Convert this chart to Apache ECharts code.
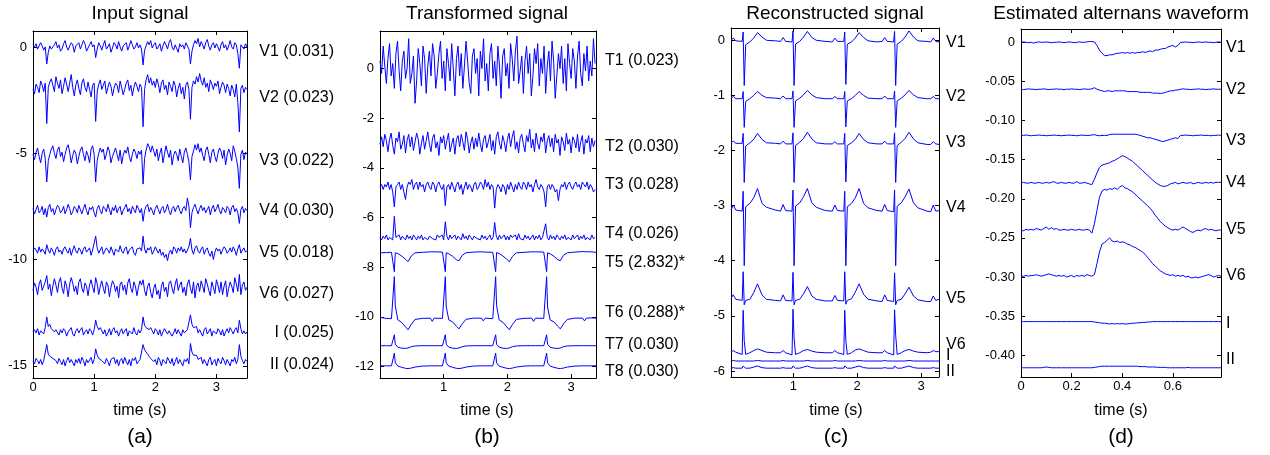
<!DOCTYPE html>
<html><head><meta charset="utf-8">
<script src="https://cdn.jsdelivr.net/npm/echarts@6/dist/echarts.min.js"></script>
<style>html,body{margin:0;padding:0;background:#fff}#c{width:1270px;height:455px}</style>
</head><body><div id="c"></div><script>
// ---------------- Panel (a): input signal (sampling step 0.025 s, deviations + lead offsets)
const dtA = 0.025;
const leadsA = ['V1 (0.031)','V2 (0.023)','V3 (0.022)','V4 (0.030)','V5 (0.018)','V6 (0.027)','I (0.025)','II (0.024)'];
const offsetsA = [0, -2.0, -5.15, -7.7, -9.6, -11.35, -13.4, -14.8];
const aV1 = [0.1,0.0,0.15,-0.1,-0.05,0.2,0.05,-0.15,0.0,-0.8, -0.25,0.05,-0.1,0.0,0.1,0.25,-0.05,0.1,-0.2,-0.1, 0.15,0.3,0.0,-0.15,0.05,0.2,0.1,-0.25,0.05,0.0, 0.2,-0.1,0.1,0.3,0.15,-0.2,-0.05,0.1,0.25,0.0, 0.1,-0.5,-0.1,0.2,0.05,-0.15,0.1,0.3,-0.1,0.0, 0.15,-0.25,-0.05,0.2,0.1,-0.1,0.25,0.0,-0.2,0.05, 0.1,0.2,-0.15,0.05,0.3,0.1,-0.1,0.0,0.2,-0.05, 0.1,-0.1,-0.85,-0.15,0.05,0.25,0.1,0.3,-0.05,0.1, 0.2,-0.1,0.0,0.15,-0.2,0.05,0.25,0.1,-0.1,0.2, 0.35,0.0,-0.15,0.1,0.05,-0.25,0.15,0.0,0.1,-0.1, 0.2,0.05,-0.1,-0.8,-0.2,0.1,0.3,0.15,0.4,0.0, 0.25,0.1,-0.1,0.2,0.35,0.05,-0.15,0.1,0.2,-0.05, 0.15,0.0,-0.2,0.1,0.25,-0.05,0.1,-0.15,0.05,0.3, 0.0,-0.1,0.2,0.1,-0.3,-1.0,0.1,0.0,-0.1,0.15, 0.0];
const aV2 = [0.0,-0.2,0.25,0.1,-0.15,0.4,0.2,-0.1,0.3,-1.6, 0.1,0.35,0.5,0.2,-0.1,0.6,0.3,0.05,0.45,-0.2, 0.15,0.55,0.25,-0.1,0.3,0.7,0.1,-0.3,0.2,0.45, 0.05,-0.25,0.3,0.5,0.1,-0.1,0.35,0.0,-0.35,0.2, 0.3,-1.5,-0.1,0.25,0.45,0.0,0.2,0.4,-0.2,0.1, 0.35,0.15,-0.3,0.05,0.3,0.2,-0.15,0.4,0.1,-0.25, 0.0,0.3,0.45,-0.05,0.2,-0.3,0.1,0.35,0.15,-0.1, 0.25,0.1,-1.75,0.0,0.45,0.7,0.3,0.55,0.2,0.4, 0.1,0.5,0.25,-0.15,0.3,0.45,0.0,0.2,-0.25,0.35, 0.15,-0.1,0.4,0.2,-0.35,0.05,0.3,-0.2,0.1,-0.45, 0.2,0.35,0.0,-1.4,0.1,0.4,0.25,0.6,0.35,0.75, 0.4,0.2,0.55,0.1,0.3,-0.1,0.45,0.25,0.0,0.3, 0.15,0.4,-0.2,0.1,0.35,0.2,-0.15,0.25,0.05,-0.3, 0.2,0.0,-0.35,0.25,-0.6,-2.0,0.05,0.2,-0.15,0.1, 0.0];
const aV3 = [0.1,-0.15,0.2,0.4,0.0,-0.3,0.15,0.35,-0.1,-1.2, -0.2,0.1,0.35,0.5,0.15,-0.1,0.3,0.45,0.0,0.2, -0.25,0.1,0.4,0.55,0.2,-0.3,0.05,0.3,0.15,-0.35, 0.0,0.3,0.45,0.1,-0.2,0.25,0.05,-0.3,0.35,0.5, 0.1,-1.2,-0.2,0.15,0.4,0.2,0.35,-0.15,0.1,0.45, 0.25,-0.3,0.0,0.2,0.4,0.1,-0.2,0.3,-0.35,0.05, 0.3,0.15,0.45,0.0,-0.25,0.1,0.35,0.2,-0.1,0.25, 0.1,0.3,-1.3,-0.1,0.3,0.6,0.45,0.2,0.5,0.25, 0.0,0.35,-0.2,0.15,0.4,-0.3,0.1,0.5,0.2,-0.05, 0.3,-0.4,0.05,0.25,0.1,-0.2,0.35,0.0,-0.3,0.2, 0.4,0.1,-0.25,-1.1,0.0,0.25,0.55,0.3,0.6,0.2, 0.4,0.05,-0.2,0.3,0.45,0.1,-0.3,0.2,0.35,0.0, -0.25,0.15,0.4,0.25,-0.1,0.3,-0.4,0.05,0.35,0.15, -0.2,0.5,0.25,-0.1,-0.5,-1.5,0.1,0.3,-0.15,0.2, 0.1];
const aV4 = [0.1,-0.15,0.05,0.25,-0.1,0.0,0.2,-0.2,0.1,-0.3, 0.15,0.3,-0.05,0.1,-0.2,0.05,0.25,0.15,-0.1,0.0, 0.2,-0.15,0.05,0.3,0.1,-0.2,-0.05,0.2,0.1,-0.1, 0.25,0.05,-0.15,0.1,0.3,0.0,-0.2,0.15,0.05,0.2, -0.1,-0.3,0.1,0.25,0.0,-0.15,0.2,0.1,-0.05,0.3, 0.05,-0.2,0.15,0.0,0.25,-0.1,0.1,0.2,-0.2,0.0, 0.15,0.3,-0.05,0.1,-0.15,0.2,0.05,-0.1,0.25,0.1, -0.1,0.1,-0.5,0.0,0.2,0.3,-0.05,0.15,0.0,-0.2, 0.1,0.25,0.05,-0.15,0.1,0.2,-0.1,0.05,0.3,0.0, -0.2,0.1,0.2,-0.05,0.15,0.25,0.0,-0.15,0.1,0.2, 0.0,0.6,0.2,-0.8,-0.1,0.15,0.3,0.05,-0.15,0.1, 0.25,0.0,0.15,-0.1,0.05,0.2,-0.2,0.1,0.25,-0.05, 0.1,0.3,0.0,-0.15,0.15,0.05,-0.1,0.2,0.1,-0.2, 0.15,0.25,-0.05,0.1,-0.1,-0.6,0.05,0.2,-0.1,0.1, 0.0];
const aV5 = [0.0,0.15,0.05,-0.1,0.2,-0.05,0.1,0.0,-0.15,0.3, 0.05,-0.1,0.15,0.0,-0.2,0.1,0.2,-0.05,0.05,-0.15, 0.1,0.2,0.0,-0.1,0.15,-0.2,0.05,0.25,0.0,-0.1, 0.15,0.05,-0.15,0.1,0.2,-0.05,0.0,0.15,-0.2,0.05, 0.1,0.7,0.15,-0.1,0.05,0.2,-0.15,0.0,0.15,0.05, -0.1,0.2,0.0,-0.2,0.1,0.15,-0.05,0.25,0.0,-0.1, 0.1,0.2,-0.15,0.05,0.0,0.2,-0.1,-0.2,0.1,0.05, 0.15,0.0,0.7,0.1,-0.1,0.15,0.05,0.2,-0.15,0.0, 0.2,0.05,-0.1,0.1,-0.2,-0.05,-0.3,-0.15,-0.45,-0.1, 0.05,-0.15,0.2,0.1,-0.1,0.15,0.0,0.2,-0.05,0.1, -0.1,0.05,0.2,0.6,0.05,-0.15,0.15,0.25,0.0,-0.1, 0.1,0.2,-0.15,0.05,0.15,-0.1,-0.25,0.0,-0.4,-0.05, 0.15,0.0,0.1,-0.15,0.05,0.2,0.1,-0.1,0.0,0.15, -0.05,0.2,0.05,-0.2,0.1,0.3,-0.1,0.05,0.15,-0.05, 0.0];
const aV6 = [-0.1,0.25,0.05,-0.3,0.2,0.4,-0.1,0.1,0.3,0.6, -0.05,0.2,-0.35,0.1,0.45,0.15,-0.2,0.3,0.5,0.0, -0.25,0.35,0.1,-0.4,0.2,0.5,0.25,-0.15,0.1,-0.3, 0.3,0.45,0.0,-0.2,0.25,0.1,-0.35,0.15,0.4,0.05, -0.2,0.5,0.2,-0.3,0.1,0.35,0.0,-0.25,0.3,0.15, -0.4,0.05,0.35,0.2,-0.15,0.1,-0.45,0.2,0.3,-0.1, 0.15,-0.3,0.25,0.45,0.0,-0.2,0.3,0.1,-0.35,0.05, 0.35,0.15,0.4,-0.1,-0.35,0.1,0.25,-0.2,-0.45,0.0, 0.2,-0.3,-0.1,-0.5,0.1,0.3,-0.15,0.05,-0.4,0.25, 0.35,0.0,-0.25,0.2,0.45,-0.1,0.15,0.3,-0.2,0.05, -0.35,0.2,0.4,0.0,-0.25,0.3,-0.45,0.1,0.25,-0.15, 0.35,0.1,-0.2,0.45,0.2,-0.1,-0.35,0.3,0.05,-0.25, 0.4,0.15,-0.2,0.3,-0.3,0.1,0.35,-0.4,0.0,0.3, 0.1,-0.2,0.5,0.2,-0.15,0.65,-0.3,0.15,0.3,-0.1, 0.05];
const aI = [0.0,0.1,-0.05,0.15,-0.15,0.05,0.1,-0.1,0.2,0.7, 0.25,0.35,0.15,0.2,0.0,0.1,0.05,-0.15,0.1,-0.05, 0.15,0.05,-0.2,0.0,0.1,0.2,-0.1,-0.2,0.05,0.15, -0.05,0.1,0.2,-0.15,0.0,0.1,-0.1,0.15,0.05,-0.15, 0.1,0.55,0.25,0.1,0.2,0.05,-0.1,0.1,-0.2,-0.05, 0.15,-0.15,0.1,0.2,-0.05,0.05,-0.2,0.0,0.15,-0.1, 0.05,0.15,-0.2,0.05,0.1,-0.1,0.2,-0.05,-0.15,0.1, -0.05,0.1,0.7,0.3,0.2,0.25,0.1,0.2,0.05,-0.1, 0.15,0.05,-0.15,0.1,-0.2,0.0,0.15,0.2,-0.1,0.05, 0.1,-0.2,-0.05,0.15,-0.1,0.1,0.05,-0.2,0.1,-0.05, -0.1,0.1,0.05,0.8,0.35,0.2,0.15,0.25,-0.05,0.1, 0.05,-0.2,0.1,0.2,-0.1,-0.05,0.15,-0.2,0.05,0.1, -0.1,0.15,0.05,-0.15,0.1,-0.2,0.0,0.15,-0.05,0.2, 0.05,-0.1,0.1,0.2,-0.05,0.55,0.15,-0.1,0.05,-0.1, 0.0];
const aII = [0.0,-0.1,0.15,0.05,-0.1,0.1,-0.15,0.05,0.1,0.8, 0.35,0.25,0.3,0.15,0.2,0.05,-0.1,0.15,0.0,-0.15, 0.1,-0.2,0.05,0.2,-0.05,0.1,0.05,-0.2,0.1,-0.05, 0.15,-0.1,0.2,0.05,-0.2,0.1,-0.05,0.0,0.2,-0.1, 0.1,0.6,0.3,0.15,0.2,0.05,0.1,-0.1,0.15,0.0, -0.2,0.1,0.05,0.2,-0.1,0.1,-0.2,0.05,0.15,-0.1, 0.2,0.0,-0.15,0.1,-0.2,0.15,0.05,0.2,-0.1,0.0, 0.1,0.05,0.8,0.55,0.5,0.35,0.25,0.15,0.2,0.0, 0.1,-0.15,0.2,0.05,-0.2,0.1,0.0,-0.1,0.2,0.05, -0.1,0.15,-0.2,0.0,0.2,-0.1,0.1,0.05,-0.2,0.1, 0.0,0.15,-0.1,0.85,0.45,0.3,0.25,0.3,0.1,0.05, 0.2,-0.1,0.1,0.05,-0.2,0.1,0.2,-0.15,0.0,0.1, -0.2,0.15,0.0,-0.1,0.2,0.05,-0.15,0.1,0.05,-0.2, 0.1,0.0,0.2,-0.1,0.1,0.8,0.25,0.05,-0.1,0.1, 0.0];

// ---------------- Panel (b): transformed signal
const dtB = 0.025;
const leadsB = ['T1 (0.023)','T2 (0.030)','T3 (0.028)','T4 (0.026)','T5 (2.832)*','T6 (0.288)*','T7 (0.030)','T8 (0.030)'];
const offsetsB = [0, -3.05, -4.77, -6.8];
const bT1 = [0.3,-0.2,0.9,0.1,-0.6,0.4,1.0,-0.3,0.2,-0.8, 0.6,1.1,-0.1,-0.9,0.3,0.7,-0.4,0.0,1.2,-0.6, -0.2,0.5,-1.4,-0.5,0.8,0.2,-0.7,0.9,0.4,-1.0, 0.1,0.7,-0.3,1.0,0.5,-0.8,-0.2,0.6,1.1,-0.4, 0.3,-0.9,0.8,0.2,-0.5,1.0,0.0,-1.1,0.4,0.9, -0.3,0.6,-0.8,0.1,1.1,0.3,-0.6,-1.0,0.5,0.8, -0.2,0.4,-1.1,0.7,0.0,1.2,-0.5,0.2,-0.9,0.6, 1.0,-0.4,0.3,-0.7,0.9,0.1,-1.2,0.5,0.8,-0.3, 0.2,-0.8,1.0,0.4,-0.5,0.7,1.3,-0.6,-0.1,0.5, -1.0,0.3,0.9,-0.2,0.6,-1.1,-0.3,0.8,0.2,1.0, -0.7,0.4,-0.2,0.9,-1.0,0.1,0.7,-0.5,1.1,0.3, -1.2,-0.3,0.6,0.0,0.9,-0.6,0.4,-0.9,1.0,0.2, -0.4,0.8,0.3,-0.8,0.5,1.1,-0.2,-0.7,0.6,-0.1, 0.9,-0.5,0.3,-0.3,1.2,0.2];
const bT2 = [0.0,0.3,-0.1,0.4,0.15,-0.3,0.2,0.45,-0.05,-0.4, 0.25,0.1,0.5,-0.2,0.0,0.35,-0.35,0.15,0.4,-0.1, 0.3,-0.25,0.1,0.45,0.2,-0.4,0.05,0.35,-0.2,0.15, 0.5,0.0,-0.3,0.25,0.4,-0.15,0.1,-0.45,0.3,0.05, 0.35,-0.2,0.15,0.45,-0.3,0.0,0.25,-0.4,0.2,0.35, -0.1,0.4,0.1,-0.25,0.5,0.2,-0.35,0.05,0.3,-0.2, 0.25,-0.1,0.45,0.0,-0.3,0.2,0.35,-0.15,0.1,0.4, -0.25,0.15,-0.4,0.3,0.5,0.05,-0.2,0.35,0.1,-0.3, 0.2,0.45,-0.1,0.3,0.55,-0.2,0.1,-0.35,0.25,0.4, 0.0,-0.3,0.35,0.1,0.6,-0.15,0.2,-0.3,0.45,0.05, -0.2,0.3,0.1,0.45,-0.35,0.15,0.35,-0.1,0.25,-0.3, 0.4,0.05,0.2,-0.45,0.3,0.1,-0.25,0.45,0.0,0.2, -0.35,0.3,0.15,-0.15,0.4,-0.3,0.1,0.35,-0.4,0.2, 0.05,0.35,-0.3,0.25,-0.1,0.15];
const bT3 = [0.0,0.1,-0.1,0.1,0.0,0.2,-0.1,0.1,-0.2,-0.8, 0.0,0.1,0.2,-0.1,0.1,-0.2,-0.5,0.0,0.2,0.1, 0.3,-0.1,0.1,0.2,-0.1,0.2,0.0,0.1,-0.2,0.1, 0.2,0.0,-0.1,0.2,0.1,-0.2,0.1,0.2,0.0,-0.1, 0.1,-0.75,0.0,0.1,-0.1,0.2,0.0,-0.2,0.1,0.2, -0.1,0.1,-0.3,0.0,0.2,-0.1,0.1,0.0,-0.2,0.1, 0.2,-0.1,0.0,0.2,0.1,-0.1,0.3,0.0,0.2,-0.1, 0.1,0.0,-0.85,-0.1,0.1,0.0,-0.2,0.1,0.0,-0.3, 0.1,-0.1,0.2,0.0,-0.2,0.1,-0.1,0.2,0.0,-0.1, 0.2,0.1,-0.1,0.2,0.0,0.1,-0.2,0.1,0.3,0.0, -0.1,0.1,0.0,-0.2,-0.8,0.0,0.1,-0.1,0.1,0.0, -0.2,-0.1,-0.55,-0.1,0.1,0.0,0.2,-0.1,0.1,0.2, 0.0,-0.1,0.1,0.2,0.0,0.1,-0.1,0.2,0.1,0.0, 0.2,-0.1,0.1,0.0,-0.2,-0.1];
const bT4 = [0.0,-0.1,0.05,-0.05,0.1,-0.1,0.0,0.05,-0.1,0.85, 0.0,-0.05,0.1,-0.1,0.05,0.0,-0.1,0.1,-0.05,0.05, -0.1,0.1,0.0,-0.1,0.05,-0.05,0.1,-0.1,0.0,0.05, -0.1,0.05,0.1,-0.05,0.0,-0.1,0.1,0.0,-0.05,0.1, -0.1,0.63,0.05,-0.1,0.1,-0.05,0.0,0.1,-0.1,0.05, 0.0,-0.1,0.15,-0.05,0.05,-0.1,0.1,0.0,-0.1,0.05, 0.1,-0.05,0.0,-0.1,0.1,-0.05,0.05,-0.1,0.0,0.1, -0.1,0.0,0.6,0.05,-0.1,0.1,-0.05,0.0,0.1,-0.1, 0.05,-0.1,0.1,0.0,-0.05,0.1,-0.1,0.15,-0.05,0.0, -0.1,0.1,-0.05,0.05,-0.1,0.0,0.1,-0.1,0.05,-0.05, 0.1,-0.1,0.0,0.05,0.55,0.0,-0.1,0.1,-0.05,0.05, -0.1,0.1,0.0,-0.1,0.05,-0.05,0.1,-0.1,0.0,0.05, -0.1,0.1,-0.05,0.0,0.1,-0.1,0.05,-0.05,0.1,-0.1, 0.0,0.05,-0.1,0.1,-0.05,0.0];
const tB = [0.0,0.10, 0.18,0.21,0.225,0.24,0.28,0.34,0.40,0.44,0.49,0.55,0.67,0.79,0.82,0.85, 0.98,1.01,1.025,1.04,1.08,1.14,1.20,1.24,1.29,1.35,1.47,1.59,1.62,1.65, 1.77,1.80,1.815,1.83,1.87,1.93,1.99,2.03,2.08,2.14,2.26,2.38,2.41,2.44, 2.57,2.60,2.615,2.63,2.67,2.73,2.79,2.83,2.88,2.94,3.06,3.18,3.21,3.24, 3.31,3.39];
const bT5 = [-7.42,-7.41, -7.40,-7.38,-8.18,-7.42,-7.45,-7.55,-7.68,-7.78,-7.55,-7.42,-7.40,-7.38,-7.39,-7.38, -7.39,-7.38,-8.18,-7.42,-7.46,-7.56,-7.70,-7.74,-7.52,-7.42,-7.39,-7.38,-7.38,-7.39, -7.40,-7.38,-8.18,-7.41,-7.45,-7.55,-7.68,-7.78,-7.56,-7.42,-7.40,-7.38,-7.39,-7.38, -7.39,-7.38,-8.18,-7.42,-7.46,-7.56,-7.70,-7.74,-7.52,-7.42,-7.39,-7.37,-7.38,-7.38, -7.38,-7.40];
const bT6 = [-10.02,-10.06, -10.07,-10.05,-8.38,-9.55,-10.12,-10.22,-10.40,-10.52,-10.30,-10.10,-10.06,-10.05,-10.18,-10.05, -10.06,-10.05,-8.38,-9.60,-10.12,-10.20,-10.38,-10.48,-10.28,-10.10,-10.05,-10.05,-10.16,-10.05, -10.07,-10.05,-8.38,-9.55,-10.12,-10.22,-10.40,-10.52,-10.30,-10.10,-10.06,-10.05,-10.18,-10.05, -10.06,-10.05,-8.38,-9.60,-10.12,-10.20,-10.38,-10.48,-10.28,-10.10,-10.05,-10.05,-10.16,-10.05, -10.04,-10.05];
const bT7 = [-11.16,-11.16, -11.16,-11.15,-10.72,-11.10,-11.22,-11.26,-11.27,-11.25,-11.20,-11.17,-11.16,-11.16,-11.17,-11.16, -11.16,-11.15,-10.72,-11.10,-11.22,-11.26,-11.27,-11.25,-11.20,-11.17,-11.16,-11.16,-11.17,-11.16, -11.16,-11.15,-10.72,-11.10,-11.22,-11.26,-11.27,-11.25,-11.20,-11.17,-11.16,-11.16,-11.17,-11.16, -11.16,-11.15,-10.72,-11.10,-11.22,-11.26,-11.27,-11.25,-11.20,-11.17,-11.16,-11.16,-11.17,-11.16, -11.16,-11.16];
const bT8 = [-11.97,-11.97, -11.97,-11.96,-11.46,-11.85,-11.98,-12.03,-12.07,-12.08,-12.06,-12.02,-11.98,-11.97,-11.98,-11.97, -11.97,-11.96,-11.46,-11.85,-11.98,-12.03,-12.07,-12.08,-12.06,-12.02,-11.98,-11.97,-11.98,-11.97, -11.97,-11.96,-11.46,-11.85,-11.98,-12.03,-12.07,-12.08,-12.06,-12.02,-11.98,-11.97,-11.98,-11.97, -11.97,-11.96,-11.46,-11.85,-11.98,-12.03,-12.07,-12.08,-12.06,-12.02,-11.98,-11.97,-11.98,-11.97, -11.97,-11.97];

// ---------------- Panel (c): reconstructed signal
const leadsC = ['V1','V2','V3','V4','V5','V6','I','II'];
const tC = [0.025,0.06,0.10,0.20,0.215,0.232,0.255,0.32,0.38,0.44,0.51,0.58,0.72, 0.80,0.84,0.88,0.98,0.995,1.012,1.035,1.10,1.16,1.22,1.29,1.36,1.50, 1.61,1.65,1.69,1.79,1.805,1.822,1.845,1.91,1.97,2.03,2.10,2.17,2.31, 2.39,2.43,2.47,2.57,2.585,2.602,2.625,2.69,2.75,2.81,2.88,2.95,3.09, 3.15,3.19,3.23,3.28];
const cV1 = [0.00,0.04,-0.01,-0.02,0.15,-0.82,-0.08,-0.03,0.04,0.14,0.06,0.00,-0.01, -0.02,0.05,-0.02,-0.03,0.17,-0.82,-0.07,-0.02,0.06,0.16,0.05,0.00,-0.02, -0.03,0.04,-0.02,-0.02,0.15,-0.80,-0.07,-0.03,0.04,0.14,0.05,-0.01,-0.03, -0.02,0.05,-0.02,-0.03,0.16,-0.82,-0.07,-0.02,0.06,0.17,0.06,-0.01,-0.02, -0.03,0.04,-0.02,-0.03];
const cV2 = [-1.05,-1.02,-1.06,-1.06,-0.93,-1.58,-1.11,-1.06,-1.00,-0.93,-1.00,-1.04,-1.05, -1.06,-1.01,-1.06,-1.06,-0.92,-1.58,-1.10,-1.05,-0.99,-0.91,-0.99,-1.04,-1.06, -1.06,-1.02,-1.06,-1.06,-0.93,-1.57,-1.10,-1.06,-1.00,-0.93,-1.00,-1.05,-1.06, -1.06,-1.01,-1.06,-1.06,-0.92,-1.58,-1.10,-1.05,-0.99,-0.91,-0.99,-1.04,-1.06, -1.06,-1.02,-1.06,-1.06];
const cV3 = [-1.86,-1.83,-1.87,-1.87,-1.69,-2.58,-1.92,-1.86,-1.80,-1.69,-1.80,-1.86,-1.87, -1.88,-1.83,-1.88,-1.88,-1.68,-2.58,-1.91,-1.85,-1.78,-1.67,-1.79,-1.86,-1.88, -1.88,-1.84,-1.88,-1.88,-1.69,-2.57,-1.91,-1.86,-1.80,-1.69,-1.80,-1.86,-1.88, -1.88,-1.83,-1.88,-1.88,-1.68,-2.58,-1.91,-1.85,-1.78,-1.67,-1.79,-1.86,-1.89, -1.89,-1.84,-1.88,-1.89];
const cV4 = [-3.08,-2.99,-3.08,-3.10,-2.74,-4.09,-3.02,-2.96,-2.86,-2.69,-2.96,-3.03,-3.08, -3.10,-2.98,-3.09,-3.10,-2.72,-4.09,-3.01,-2.95,-2.84,-2.69,-2.95,-3.03,-3.09, -3.10,-2.99,-3.09,-3.10,-2.74,-4.09,-3.02,-2.96,-2.86,-2.69,-2.96,-3.04,-3.09, -3.10,-2.98,-3.09,-3.11,-2.72,-4.09,-3.01,-2.95,-2.84,-2.70,-2.95,-3.04,-3.10, -3.11,-2.99,-3.10,-3.09];
const cV5 = [-4.68,-4.62,-4.70,-4.72,-4.20,-4.80,-4.72,-4.70,-4.58,-4.42,-4.62,-4.70,-4.72, -4.73,-4.62,-4.72,-4.73,-4.21,-4.80,-4.72,-4.70,-4.60,-4.47,-4.64,-4.70,-4.73, -4.73,-4.63,-4.72,-4.73,-4.20,-4.79,-4.72,-4.69,-4.57,-4.42,-4.61,-4.70,-4.73, -4.74,-4.62,-4.72,-4.74,-4.22,-4.80,-4.72,-4.70,-4.60,-4.48,-4.64,-4.71,-4.74, -4.74,-4.64,-4.72,-4.70];
const cV6 = [-5.66,-5.63,-5.66,-5.70,-4.90,-5.45,-5.70,-5.67,-5.63,-5.60,-5.63,-5.66,-5.67, -5.67,-5.63,-5.67,-5.71,-4.88,-5.40,-5.70,-5.67,-5.63,-5.61,-5.64,-5.66,-5.67, -5.67,-5.63,-5.67,-5.70,-4.90,-5.45,-5.70,-5.67,-5.62,-5.60,-5.63,-5.66,-5.67, -5.67,-5.63,-5.67,-5.71,-4.89,-5.35,-5.70,-5.67,-5.63,-5.61,-5.64,-5.66,-5.67, -5.66,-5.63,-5.65,-5.65];
const cI = [-5.82,-5.81,-5.82,-5.82,-5.79,-5.82,-5.82,-5.82,-5.82,-5.81,-5.82,-5.82,-5.82, -5.82,-5.81,-5.82,-5.82,-5.79,-5.82,-5.82,-5.82,-5.82,-5.81,-5.82,-5.82,-5.82, -5.82,-5.81,-5.82,-5.82,-5.79,-5.82,-5.82,-5.82,-5.82,-5.81,-5.82,-5.82,-5.82, -5.82,-5.81,-5.82,-5.82,-5.79,-5.82,-5.82,-5.82,-5.82,-5.81,-5.82,-5.82,-5.82, -5.82,-5.82,-5.82,-5.82];
const cII = [-5.95,-5.94,-5.95,-5.95,-5.91,-5.94,-5.95,-5.95,-5.93,-5.91,-5.94,-5.95,-5.95, -5.95,-5.94,-5.95,-5.95,-5.91,-5.94,-5.95,-5.95,-5.93,-5.91,-5.94,-5.95,-5.95, -5.95,-5.94,-5.95,-5.95,-5.91,-5.94,-5.95,-5.95,-5.93,-5.91,-5.94,-5.95,-5.95, -5.95,-5.94,-5.95,-5.95,-5.91,-5.94,-5.95,-5.95,-5.93,-5.91,-5.94,-5.95,-5.95, -5.95,-5.94,-5.95,-5.95];

// ---------------- Panel (d): estimated alternans waveform (sampling step 0.01 s)
const dtD = 0.01;
const leadsD = ['V1','V2','V3','V4','V5','V6','I','II'];
const dV1 = [0,0.0005,0,-0.0005,0,-0.001,0,0.0005,0,0, 0.0005,0,-0.0005,0,0,0.0005,0,-0.0005,0,0.0005, 0,-0.0005,0,0.0005,0,0,0.0005,0.001,0.001,0.0005, -0.004,-0.010,-0.014,-0.017,-0.017,-0.016,-0.016,-0.015,-0.014,-0.014, -0.013,-0.014,-0.013,-0.014,-0.013,-0.014,-0.013,-0.013,-0.012,-0.013, -0.012,-0.011,-0.012,-0.010,-0.010,-0.009,-0.008,-0.008,-0.006,-0.005, -0.004,-0.006,-0.004,0,0,0.0005,0,0,-0.0005,0, 0.0005,0,0,0.0005,0,0,-0.0005,0,0.0005,0];
const dV2 = [-0.060,-0.0605,-0.060,-0.0595,-0.060,-0.060,-0.0605,-0.060,-0.060,-0.0595, -0.060,-0.0605,-0.060,-0.060,-0.0595,-0.060,-0.060,-0.0605,-0.060,-0.060, -0.0595,-0.060,-0.060,-0.0605,-0.060,-0.0595,-0.060,-0.060,-0.0595,-0.058, -0.060,-0.061,-0.062,-0.063,-0.062,-0.062,-0.063,-0.062,-0.062,-0.062, -0.062,-0.062,-0.063,-0.063,-0.063,-0.063,-0.063,-0.064,-0.064,-0.064, -0.064,-0.064,-0.065,-0.065,-0.065,-0.0655,-0.065,-0.064,-0.063,-0.062, -0.062,-0.061,-0.061,-0.060,-0.0595,-0.060,-0.060,-0.0605,-0.060,-0.060, -0.0595,-0.060,-0.060,-0.0605,-0.060,-0.060,-0.0595,-0.060,-0.060,-0.060];
const dV3 = [-0.119,-0.119,-0.1185,-0.119,-0.1195,-0.119,-0.119,-0.1185,-0.119,-0.119, -0.1195,-0.119,-0.119,-0.1185,-0.119,-0.119,-0.1195,-0.119,-0.119,-0.1185, -0.119,-0.119,-0.1195,-0.119,-0.1185,-0.119,-0.119,-0.119,-0.1185,-0.118, -0.119,-0.1195,-0.119,-0.119,-0.119,-0.118,-0.1175,-0.1175,-0.1175,-0.1175, -0.1175,-0.1175,-0.1175,-0.1175,-0.1175,-0.1175,-0.118,-0.119,-0.120,-0.121, -0.122,-0.122,-0.123,-0.124,-0.125,-0.126,-0.127,-0.126,-0.125,-0.124, -0.123,-0.122,-0.123,-0.119,-0.119,-0.1185,-0.119,-0.119,-0.1195,-0.119, -0.119,-0.1185,-0.119,-0.119,-0.119,-0.1195,-0.119,-0.119,-0.1185,-0.119];
const dV4 = [-0.180,-0.179,-0.180,-0.180,-0.179,-0.180,-0.180,-0.179,-0.180,-0.180, -0.179,-0.180,-0.179,-0.178,-0.180,-0.180,-0.179,-0.180,-0.180,-0.179, -0.180,-0.180,-0.178,-0.180,-0.180,-0.179,-0.180,-0.181,-0.182,-0.175, -0.167,-0.160,-0.157,-0.156,-0.155,-0.154,-0.152,-0.151,-0.149,-0.147, -0.145,-0.146,-0.148,-0.150,-0.152,-0.155,-0.158,-0.161,-0.164,-0.167, -0.170,-0.173,-0.176,-0.179,-0.181,-0.183,-0.184,-0.184,-0.183,-0.181, -0.180,-0.179,-0.181,-0.180,-0.179,-0.180,-0.180,-0.179,-0.181,-0.180, -0.179,-0.180,-0.180,-0.179,-0.180,-0.179,-0.180,-0.179,-0.179,-0.179];
const dV5 = [-0.240,-0.241,-0.239,-0.240,-0.239,-0.240,-0.238,-0.239,-0.240,-0.238, -0.236,-0.239,-0.237,-0.239,-0.238,-0.240,-0.240,-0.239,-0.240,-0.240, -0.239,-0.240,-0.240,-0.239,-0.240,-0.240,-0.239,-0.240,-0.244,-0.232, -0.215,-0.198,-0.190,-0.188,-0.189,-0.187,-0.188,-0.186,-0.188,-0.185, -0.183,-0.186,-0.187,-0.189,-0.191,-0.194,-0.197,-0.200,-0.203,-0.206, -0.209,-0.212,-0.216,-0.221,-0.225,-0.229,-0.232,-0.235,-0.237,-0.239, -0.240,-0.239,-0.240,-0.238,-0.236,-0.238,-0.240,-0.242,-0.243,-0.241, -0.240,-0.241,-0.239,-0.238,-0.240,-0.239,-0.240,-0.241,-0.240,-0.240];
const dV6 = [-0.299,-0.299,-0.298,-0.299,-0.298,-0.298,-0.297,-0.298,-0.299,-0.298, -0.297,-0.296,-0.297,-0.298,-0.299,-0.298,-0.299,-0.298,-0.300,-0.299, -0.298,-0.300,-0.298,-0.299,-0.298,-0.299,-0.297,-0.298,-0.299,-0.297, -0.283,-0.268,-0.258,-0.256,-0.253,-0.250,-0.254,-0.255,-0.254,-0.256, -0.255,-0.256,-0.258,-0.259,-0.261,-0.262,-0.264,-0.266,-0.268,-0.271, -0.275,-0.279,-0.283,-0.286,-0.289,-0.292,-0.294,-0.296,-0.297,-0.298, -0.297,-0.299,-0.298,-0.299,-0.298,-0.300,-0.299,-0.301,-0.301,-0.300, -0.301,-0.300,-0.299,-0.298,-0.297,-0.298,-0.300,-0.299,-0.298,-0.299];
const dI = [-0.357,-0.357,-0.357,-0.357,-0.357,-0.357,-0.357,-0.357,-0.357,-0.357, -0.357,-0.357,-0.357,-0.357,-0.357,-0.357,-0.357,-0.357,-0.357,-0.357, -0.357,-0.357,-0.357,-0.357,-0.357,-0.357,-0.357,-0.357,-0.357,-0.3575, -0.358,-0.3585,-0.359,-0.359,-0.3595,-0.360,-0.3595,-0.360,-0.3595,-0.360, -0.3595,-0.360,-0.360,-0.3595,-0.359,-0.359,-0.3585,-0.3585,-0.358,-0.358, -0.3575,-0.3575,-0.357,-0.357,-0.357,-0.357,-0.357,-0.357,-0.357,-0.357, -0.357,-0.357,-0.357,-0.357,-0.357,-0.357,-0.357,-0.357,-0.357,-0.357, -0.357,-0.357,-0.357,-0.357,-0.357,-0.357,-0.357,-0.357,-0.357,-0.357];
const dII = [-0.416,-0.416,-0.416,-0.416,-0.416,-0.416,-0.416,-0.416,-0.416,-0.4155, -0.415,-0.4155,-0.416,-0.416,-0.416,-0.416,-0.416,-0.416,-0.416,-0.416, -0.416,-0.416,-0.416,-0.416,-0.416,-0.416,-0.416,-0.416,-0.416,-0.4155, -0.415,-0.4145,-0.414,-0.414,-0.414,-0.414,-0.414,-0.414,-0.414,-0.414, -0.414,-0.414,-0.414,-0.414,-0.414,-0.414,-0.414,-0.4145,-0.4145,-0.4145, -0.415,-0.415,-0.415,-0.415,-0.4155,-0.4155,-0.4155,-0.4155,-0.416,-0.416, -0.416,-0.416,-0.416,-0.416,-0.416,-0.416,-0.4155,-0.416,-0.416,-0.416, -0.416,-0.416,-0.416,-0.416,-0.416,-0.416,-0.416,-0.416,-0.416,-0.416];

// ---------------- build
const FONT = '"Liberation Sans", Arial, Helvetica, sans-serif';
const BLUE = '#0000ff';
const grids = [
  {left:33, top:31, width:214, height:347},
  {left:380, top:31, width:216, height:347},
  {left:731, top:28, width:208, height:349},
  {left:1021, top:29, width:200, height:348}
];
const axCfg = [
  {x:[0,3.5,1,true], y:[-15.57,0.75,5]},
  {x:[0,3.39,1,false], y:[-12.46,1.51,2]},
  {x:[0.025,3.28,1,false], y:[-6.11,0.223,1]},
  {x:[0,0.79,0.2,true], y:[-0.4278,0.017,0.05]}
];
const fmtInt = v => String(Math.round(v*100)/100);
const fmtD = v => Math.abs(v) < 1e-9 ? '0' : v.toFixed(2);
const fmtDx = v => Math.abs(v) < 1e-9 ? '0' : String(Math.round(v*10)/10);

const xAxes = [], yAxes = [];
axCfg.forEach((c, g) => {
  const [xmin,xmax,xiv,xShowMin] = c.x, [ymin,ymax,yiv] = c.y;
  ['bottom','top'].forEach((pos, k) => xAxes.push({
    type:'value', gridIndex:g, position:pos, min:xmin, max:xmax,
    splitNumber: Math.round((xmax-xmin)/xiv), minInterval:xiv, maxInterval:xiv,
    axisLine:{show:true, onZero:false, lineStyle:{color:'#000', width:1}},
    axisTick:{show:true, inside:true, length:4, lineStyle:{color:'#000', width:1}},
    splitLine:{show:false},
    axisLabel:{show:k===0, interval:0, showMinLabel:xShowMin, showMaxLabel:false, margin:3,
      fontSize:13, fontFamily:FONT, color:'#000', formatter: g===3 ? fmtDx : fmtInt}
  }));
  ['left','right'].forEach((pos, k) => yAxes.push({
    type:'value', gridIndex:g, position:pos, min:ymin, max:ymax,
    splitNumber: Math.round((ymax-ymin)/yiv), minInterval:yiv, maxInterval:yiv,
    axisLine:{show:true, onZero:false, lineStyle:{color:'#000', width:1}},
    axisTick:{show:true, inside:true, length:4, lineStyle:{color:'#000', width:1}},
    splitLine:{show:false},
    axisLabel:{show:k===0, interval:0, showMinLabel:false, showMaxLabel:false, margin:6,
      fontSize:13, fontFamily:FONT, color:'#000', formatter: g===3 ? fmtD : fmtInt}
  }));
});

function line(g, pts) {
  return {type:'line', xAxisIndex:g*2, yAxisIndex:g*2, data:pts, symbol:'none', showSymbol:false,
    lineStyle:{color:BLUE, width:1}, itemStyle:{color:BLUE}, silent:true, animation:false, clip:true};
}
const uniform = (vals, dt, off) => vals.map((v,i) => [Math.round(i*dt*1000)/1000, v + off]);
const paired = (ts, vals) => ts.map((t,i) => [t, vals[i]]);

const series = [];
[aV1,aV2,aV3,aV4,aV5,aV6,aI,aII].forEach((a,k) => series.push(line(0, uniform(a, dtA, offsetsA[k]))));
[bT1,bT2,bT3,bT4].forEach((a,k) => series.push(line(1, uniform(a, dtB, offsetsB[k]))));
[bT5,bT6,bT7,bT8].forEach(a => series.push(line(1, paired(tB, a))));
[cV1,cV2,cV3,cV4,cV5,cV6,cI,cII].forEach(a => series.push(line(2, paired(tC, a))));
[dV1,dV2,dV3,dV4,dV5,dV6,dI,dII].forEach(a => series.push(line(3, uniform(a, dtD, 0))));

function txt(x, y, s, size, align) {
  return {type:'text', x:x, y:y, silent:true, z:100,
    style:{text:s, fill:'#000', font: size + 'px ' + FONT,
      align: align || 'center', verticalAlign:'middle',
      textAlign: align || 'center', textVerticalAlign:'middle'}};
}
const graphics = [];
graphics.push(txt(140, 14, 'Input signal', 19));
graphics.push(txt(487, 14, 'Transformed signal', 19));
graphics.push(txt(835, 14, 'Reconstructed signal', 19));
graphics.push(txt(1121, 14, 'Estimated alternans waveform', 19));
[[140,'(a)'],[487,'(b)'],[836,'(c)'],[1121,'(d)']].forEach(([x,l]) => {
  graphics.push(txt(x, 411, 'time (s)', 16));
  graphics.push(txt(x, 437, l, 21));
});
const posA = [51.7, 97.7, 160.7, 210.7, 252.3, 293.3, 332.7, 365];
const posB = [61, 146.7, 185, 234, 262.7, 312.7, 345, 371.7];
const posC = [42.3, 96.7, 142.7, 207.7, 299, 344.3, 356, 371.7];
const posD = [47.3, 90, 141, 182.3, 229.3, 276, 323.3, 360];
leadsA.forEach((s,i) => graphics.push(txt(334, posA[i], s, 16, 'right')));
leadsB.forEach((s,i) => graphics.push(txt(605, posB[i], s, 16, 'left')));
leadsC.forEach((s,i) => graphics.push(txt(946, posC[i], s, 16, 'left')));
leadsD.forEach((s,i) => graphics.push(txt(1226, posD[i], s, 16, 'left')));

const chart = echarts.init(document.getElementById('c'), null, {renderer:'canvas'});
chart.setOption({
  animation:false,
  backgroundColor:'#ffffff',
  grid: grids.map(g => Object.assign({containLabel:false, show:false}, g)),
  xAxis: xAxes,
  yAxis: yAxes,
  series: series,
  graphic: graphics
});
</script></body></html>
